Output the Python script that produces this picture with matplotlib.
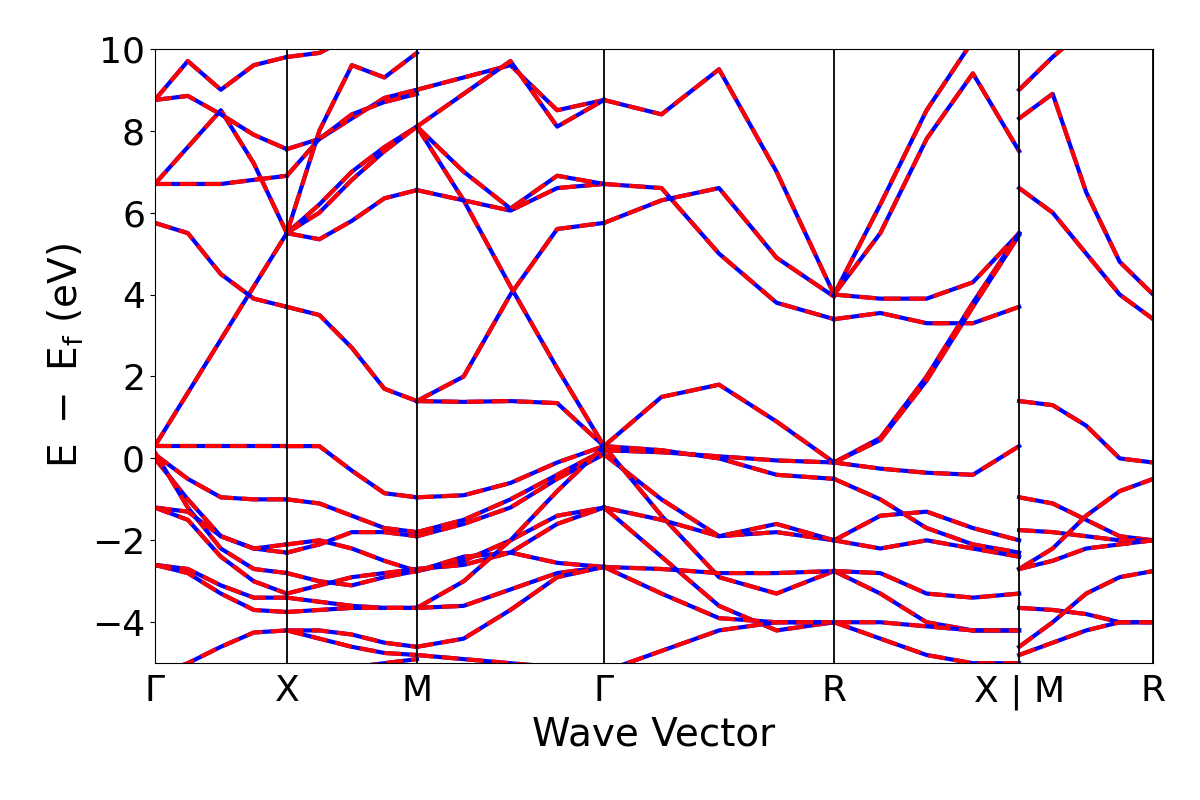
import numpy as np
import matplotlib
matplotlib.use("Agg")
import matplotlib.pyplot as plt

# high-symmetry points (path distance) and labels
kpts = [0, 132, 262, 449, 679, 864, 998]
klabels = ["Γ", "X", "M", "Γ", "R", "X | M", "R"]

# band energies (eV) sampled along each segment
seg_GX = [
    [0.3, 1.6, 2.9, 4.2, 5.5],
    [0.3, 0.3, 0.3, 0.3, 0.3],
    [0.1, -0.5, -0.95, -1.0, -1.0],
    [0.0, -1.0, -1.9, -2.2, -2.3],
    [0.15, -1.2, -2.2, -2.7, -2.8],
    [-1.2, -1.3, -1.9, -2.2, -2.1],
    [-1.2, -1.5, -2.4, -3.0, -3.3],
    [-2.6, -2.7, -3.1, -3.4, -3.4],
    [-2.6, -2.8, -3.3, -3.7, -3.75],
    [-5.3, -5.0, -4.6, -4.25, -4.2],
    [5.75, 5.5, 4.5, 3.9, 3.7],
    [6.7, 6.7, 6.7, 6.8, 6.9],
    [6.7, 7.6, 8.5, 7.2, 5.5],
    [8.75, 8.85, 8.4, 7.9, 7.55],
    [8.75, 9.7, 9.0, 9.6, 9.8],
]
seg_XM = [
    [3.7, 3.5, 2.7, 1.7, 1.4],
    [5.5, 6.2, 7.0, 7.6, 8.1],
    [5.5, 6.0, 6.8, 7.5, 8.1],
    [5.5, 5.35, 5.8, 6.35, 6.55],
    [7.55, 7.8, 8.3, 8.8, 9.0],
    [6.9, 7.8, 8.4, 8.7, 8.9],
    [9.8, 9.9, 10.3, 10.5, 10.5],
    [5.5, 8.0, 9.6, 9.3, 9.9],
    [0.3, 0.3, -0.3, -0.85, -0.95],
    [-1.0, -1.1, -1.4, -1.7, -1.8],
    [-2.3, -2.1, -1.8, -1.8, -1.9],
    [-2.1, -2.0, -2.2, -2.5, -2.75],
    [-2.8, -3.0, -3.1, -2.9, -2.75],
    [-3.3, -3.1, -2.9, -2.8, -2.7],
    [-3.4, -3.5, -3.6, -3.65, -3.65],
    [-3.75, -3.7, -3.65, -3.65, -3.65],
    [-4.2, -4.2, -4.3, -4.5, -4.6],
    [-4.2, -4.4, -4.6, -4.75, -4.8],
    [-5.3, -5.2, -5.1, -5.0, -4.9],
]
seg_MG = [
    [1.4, 1.38, 1.4, 1.35, 0.3],
    [8.1, 6.3, 4.2, 2.2, 0.3],
    [1.4, 2.0, 4.0, 5.6, 5.75],
    [6.55, 6.3, 6.05, 6.6, 6.7],
    [8.1, 7.0, 6.1, 6.9, 6.7],
    [9.0, 9.3, 9.6, 8.5, 8.75],
    [8.1, 8.9, 9.7, 8.1, 8.75],
    [-0.95, -0.9, -0.6, -0.1, 0.3],
    [-1.8, -1.5, -1.0, -0.4, 0.2],
    [-1.9, -1.6, -1.2, -0.5, 0.1],
    [-2.75, -2.5, -2.0, -1.4, -1.2],
    [-2.75, -2.4, -2.3, -2.55, -2.65],
    [-2.7, -2.6, -2.3, -1.6, -1.2],
    [-3.65, -3.0, -2.0, -0.8, 0.3],
    [-3.65, -3.6, -3.2, -2.8, -2.65],
    [-4.6, -4.4, -3.7, -2.9, -2.65],
    [-4.8, -4.9, -5.0, -5.1, -5.2],
]
seg_GR = [
    [0.3, 1.5, 1.8, 0.9, -0.1],
    [0.2, 0.15, 0.05, -0.05, -0.1],
    [0.3, 0.2, 0.0, -0.4, -0.5],
    [0.1, -1.0, -1.9, -1.8, -2.0],
    [0.3, -1.4, -2.9, -3.3, -2.75],
    [-1.2, -1.5, -1.9, -1.6, -2.0],
    [-1.2, -2.4, -3.6, -4.2, -4.0],
    [-2.65, -2.7, -2.8, -2.8, -2.75],
    [-2.65, -3.3, -3.9, -4.0, -4.0],
    [-5.2, -4.7, -4.2, -4.0, -4.0],
    [5.75, 6.3, 6.6, 4.9, 3.95],
    [6.7, 6.6, 5.0, 3.8, 3.4],
    [8.75, 8.4, 9.5, 7.0, 4.0],
]
seg_RX = [
    [4.0, 3.9, 3.9, 4.3, 5.5],
    [3.4, 3.55, 3.3, 3.3, 3.7],
    [-0.1, 0.5, 2.0, 3.8, 5.5],
    [-0.1, 0.45, 1.9, 3.7, 5.45],
    [4.0, 6.2, 8.5, 10.2, 10.5],
    [4.0, 5.5, 7.8, 9.4, 7.5],
    [-0.1, -0.25, -0.35, -0.4, 0.3],
    [-0.5, -1.0, -1.7, -2.1, -2.3],
    [-2.0, -1.4, -1.3, -1.7, -2.0],
    [-2.0, -2.2, -2.0, -2.2, -2.4],
    [-2.75, -3.3, -4.0, -4.2, -4.2],
    [-4.0, -4.0, -4.1, -4.2, -4.2],
    [-2.75, -2.8, -3.3, -3.4, -3.3],
    [-4.0, -4.4, -4.8, -5.0, -5.0],
]
seg_MR = [
    [1.4, 1.3, 0.8, 0.0, -0.1],
    [-0.95, -1.1, -1.5, -1.9, -2.0],
    [-1.75, -1.8, -1.9, -2.0, -2.0],
    [-2.7, -2.2, -1.4, -0.8, -0.5],
    [-2.7, -2.5, -2.2, -2.1, -2.0],
    [-3.65, -3.7, -3.8, -4.0, -4.0],
    [-4.6, -4.0, -3.3, -2.9, -2.75],
    [-4.8, -4.5, -4.2, -4.0, -4.0],
    [8.3, 8.9, 6.5, 4.8, 4.0],
    [6.6, 6.0, 5.0, 4.0, 3.4],
    [9.0, 9.8, 10.5, 10.5, 10.5],
]
segments = [seg_GX, seg_XM, seg_MG, seg_GR, seg_RX, seg_MR]
seg_bounds = [(0, 1), (1, 2), (2, 3), (3, 4), (4, 5), (5, 6)]

fig = plt.figure(figsize=(12, 8), dpi=100)
ax = fig.add_axes([0.129, 0.171, 0.832, 0.768])

for seg, (i0, i1) in zip(segments, seg_bounds):
    for band in seg:
        x = np.linspace(kpts[i0], kpts[i1], len(band))
        ax.plot(x, band, color="blue", lw=3)
        ax.plot(x, band, color="red", lw=3, dashes=(4, 2))

for k in kpts:
    ax.axvline(k, color="black", lw=1.3)

ax.set_xlim(kpts[0], kpts[-1])
ax.set_ylim(-5, 10)
ax.set_xticks(kpts)
ax.set_xticklabels(klabels, fontsize=26)
ax.set_yticks([-4, -2, 0, 2, 4, 6, 8, 10])
ax.tick_params(axis="y", labelsize=26)
ax.tick_params(axis="x", length=0, pad=8)
ax.set_xlabel("Wave Vector", fontsize=28)
ax.set_ylabel(r"$\mathrm{E\ -\ E_f}$ (eV)", fontsize=28)

fig.savefig("out.png", dpi=100)
